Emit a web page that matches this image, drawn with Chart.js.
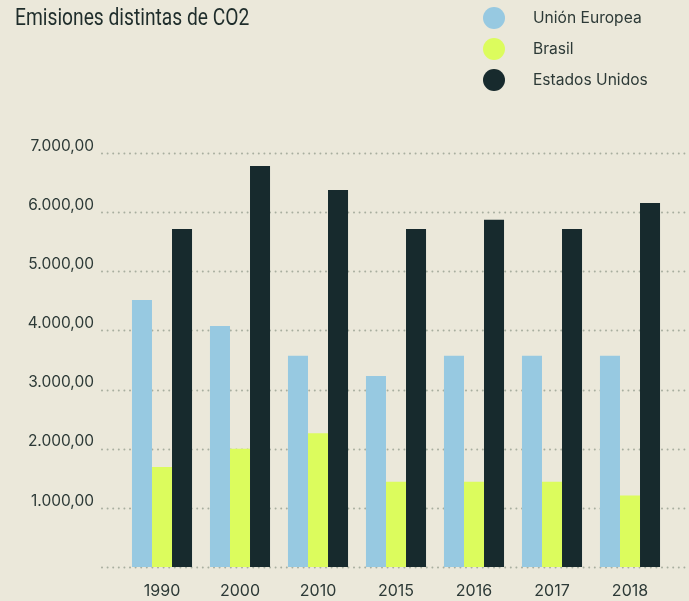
<!DOCTYPE html>
<html>
<head>
<meta charset="utf-8">
<script src="https://cdn.jsdelivr.net/npm/chart.js@4"></script>
<style>
  html, body { margin: 0; padding: 0; background: #ebe8da; }
  #wrap { position: relative; width: 689px; height: 601px; }
  canvas { display: block; }
  #title { position: absolute; left: 15px; top: 4px; font: 23px Roboto, sans-serif; color: #1f2d2b; white-space: nowrap; transform-origin: 0 0; }
  #legend { position: absolute; left: 483px; top: 2px; font: 15.6px Inter, sans-serif; color: #2d3a37; }
  .item { height: 31px; display: flex; align-items: center; }
  .dot { width: 22px; height: 22px; border-radius: 50%; margin-right: 28px; }
</style>
</head>
<body>
<div id="wrap">
  <canvas id="co2" width="689" height="601"></canvas>
  <div id="title">Emisiones distintas de CO2</div>
  <div id="legend"></div>
</div>
<script>
var years = ["1990", "2000", "2010", "2015", "2016", "2017", "2018"];
var ue = [4515, 4075, 3570, 3230, 3570, 3570, 3570];
var brasil = [1690, 2000, 2260, 1440, 1440, 1440, 1210];
var eeuu = [5715, 6780, 6375, 5715, 5870, 5715, 6155];
var seriesNames = ["Unión Europea", "Brasil", "Estados Unidos"];
var seriesColors = ["#97c9e1", "#dcfc5d", "#172a2d"];
var yTicks = [0, 1000, 2000, 3000, 4000, 5000, 6000, 7000];

// title is a narrow face in the original, squeeze it to the same width
var t = document.getElementById("title");
t.style.transform = "scaleX(" + (234 / t.offsetWidth) + ")";

// legend as html list
var lg = document.getElementById("legend");
seriesNames.forEach(function(n, i) {
  var d = document.createElement("div");
  d.className = "item";
  d.innerHTML = '<span class="dot" style="background:' + seriesColors[i] + '"></span>' + n;
  lg.appendChild(d);
});

// dotted grid lines that run past the plot area
var dottedGrid = {
  id: "dottedGrid",
  beforeDatasetsDraw: function(chart) {
    var ctx = chart.ctx, y = chart.scales.y, a = chart.chartArea;
    ctx.save();
    ctx.strokeStyle = "#a8ae9f";
    ctx.lineWidth = 2;
    ctx.lineCap = "round";
    ctx.setLineDash([0, 5.6]);
    y.ticks.forEach(function(t) {
      var py = Math.round(y.getPixelForValue(t.value)) + 0.5;
      ctx.beginPath();
      ctx.moveTo(a.left - 21, py);
      ctx.lineTo(a.right + 20, py);
      ctx.stroke();
    });
    ctx.restore();
  }
};

var fmt = new Intl.NumberFormat("es-ES", {minimumFractionDigits: 2, maximumFractionDigits: 2, useGrouping: "always"});

new Chart("co2", {
  type: "bar",
  data: {
    labels: years,
    datasets: [
      {label: seriesNames[0], data: ue, backgroundColor: seriesColors[0]},
      {label: seriesNames[1], data: brasil, backgroundColor: seriesColors[1]},
      {label: seriesNames[2], data: eeuu, backgroundColor: seriesColors[2]}
    ]
  },
  options: {
    responsive: false,
    animation: false,
    layout: {padding: {top: 153, right: 20, bottom: 1, left: 0}},
    datasets: {bar: {categoryPercentage: 0.77, barPercentage: 1}},
    plugins: {legend: {display: false}, tooltip: {enabled: false}},
    scales: {
      x: {
        afterFit: function(s) { s.height = 33; },
        grid: {display: false, drawTicks: false},
        border: {display: false},
        ticks: {color: "#2d3a37", font: {family: "Inter", size: 16}, padding: 15}
      },
      y: {
        min: 0, max: 7000,
        afterFit: function(s) { s.width = 123; s.paddingTop = 0; s.paddingBottom = 0; },
        afterBuildTicks: function(s) { s.ticks = yTicks.map(function(v) { return {value: v}; }); },
        grid: {display: false, drawTicks: false},
        border: {display: false},
        ticks: {
          color: "#2d3a37", font: {family: "Inter", size: 15.5}, padding: 29, labelOffset: -7,
          callback: function(v) { return v === 0 ? "" : fmt.format(v); }
        }
      }
    }
  },
  plugins: [dottedGrid]
});
</script>
</body>
</html>
